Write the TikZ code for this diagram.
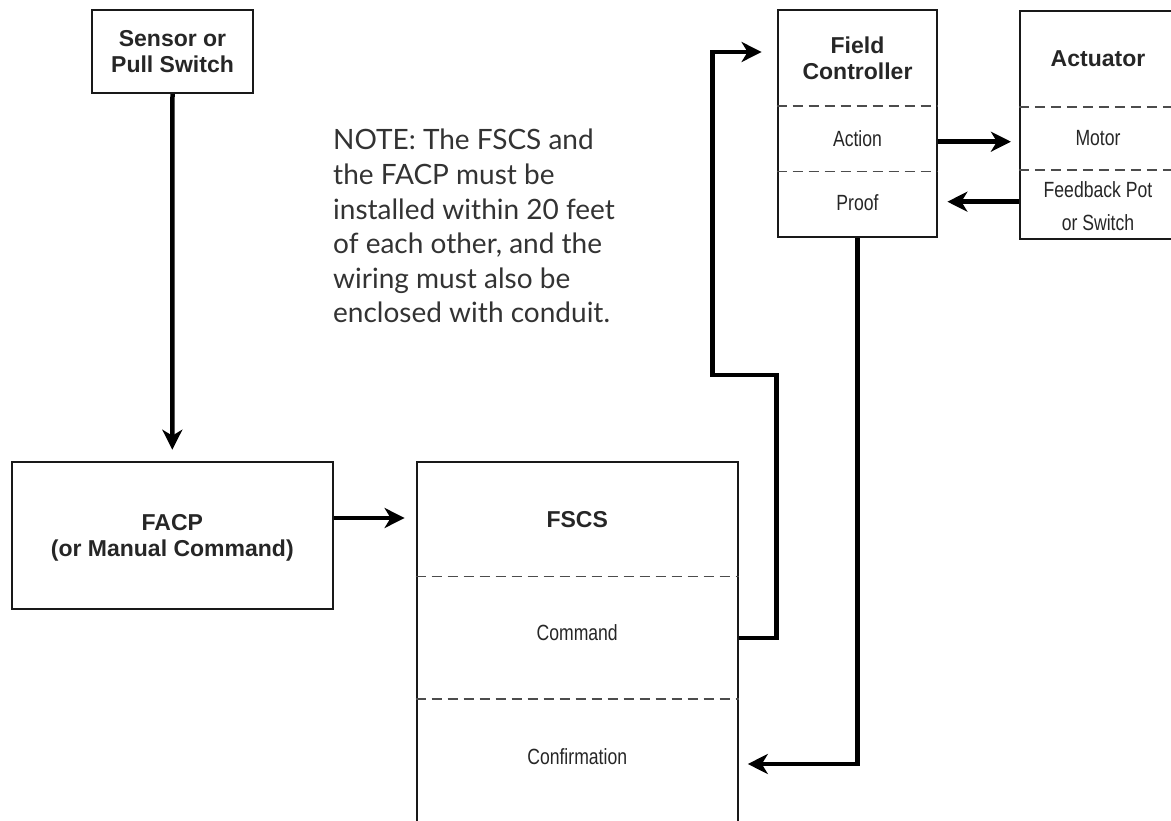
\documentclass[tikz,border=0pt]{standalone}
\usepackage{fontspec}
\setmainfont{Liberation Sans}
\newfontfamily\narrowfont[FakeStretch=0.8]{Liberation Sans}
\newfontfamily\notefont{Lato}
\usetikzlibrary{arrows.meta}
\begin{document}
\begin{tikzpicture}[x=1pt,y=-1pt,
    box/.style={draw=black!90,line width=2.2pt,inner sep=0pt},
    ttl/.style={font=\fontsize{23}{26}\selectfont\bfseries,align=center,text=black!85},
    lbl/.style={font=\narrowfont\fontsize{22}{33}\selectfont,align=center,text=black!85},
    note/.style={font=\notefont\fontsize{28}{34.6}\selectfont,align=left,text=black!80,inner sep=0pt},
    sep/.style={line width=1.2pt,black!70,dash pattern=on 10pt off 6pt},
    wire/.style={line width=4.5pt,-{Stealth[length=20pt,width=20pt,inset=6pt]}}]
    \useasboundingbox (0,0) rectangle (1171,821);
    % boxes
    \node[box,ttl,minimum width=161pt,minimum height=83pt] (sensor) at (172.5,51.5) {Sensor or\\Pull Switch};
    \node[box,minimum width=320.7pt,minimum height=147pt] (facp) at (172.3,535.3) {};
    \node[ttl] (facptitle) at (172.3,538) {FACP\\(or Manual Command)};
    \node[box,minimum width=321pt,minimum height=378pt] (fscs) at (577.2,650.7) {};
    \node[box,minimum width=159.6pt,minimum height=227pt] (fc) at (857.5,123.5) {};
    \node[box,minimum width=156pt,minimum height=227.7pt] (act) at (1098,124.9) {};
    % compartments
    \draw[sep] (fscs.west |- 0,576.7) -- (fscs.east |- 0,576.7);
    \draw[sep] (fscs.west |- 0,699) -- (fscs.east |- 0,699);
    \draw[sep] (fc.west |- 0,106) -- (fc.east |- 0,106);
    \draw[sep] (fc.west |- 0,171.3) -- (fc.east |- 0,171.3);
    \draw[sep] (act.west |- 0,107) -- (act.east |- 0,107);
    \draw[sep] (act.west |- 0,170) -- (act.east |- 0,170);
    \node[ttl] (fscstitle) at (577.2,520) {FSCS};
    \node[lbl] (command) at (577.2,632.7) {Command};
    \node[lbl] (confirm) at (577.2,756.7) {Confirmation};
    \node[ttl] (fctitle) at (857.5,58.5) {Field\\Controller};
    \node[lbl] (action) at (857.5,138.6) {Action};
    \node[lbl] (proof) at (857.5,203) {Proof};
    \node[ttl] (acttitle) at (1098,59) {Actuator};
    \node[lbl] (motor) at (1098,138.5) {Motor};
    \node[lbl] (fbk) at (1098,206) {Feedback Pot\\or Switch};
    \node[note,anchor=north west] (remark) at (333,129) {NOTE: The FSCS and\\the FACP must be\\installed within 20 feet\\of each other, and the\\wiring must also be\\enclosed with conduit.};
    % wiring
    \draw[wire,shorten >=11pt] (sensor.south) -- (facp.north);
    \draw[wire,shorten >=11pt] (facp.east |- 0,518) -- (fscs.west |- 0,518);
    \draw[wire,shorten >=8pt] (fc.east |- 0,141.7) -- (act.west |- 0,141.7);
    \draw[wire,shorten >=9pt] (act.west |- 0,201.7) -- (fc.east |- 0,201.7);
    \draw[wire,shorten >=15pt] (fscs.east |- 0,638) -| (fc.west |- 0,375) -- ++(-64,0) |- (fc.west |- 0,52);
    \draw[wire,shorten >=9pt] (fc.south) |- (fscs.east |- 0,764);
\end{tikzpicture}
\end{document}
